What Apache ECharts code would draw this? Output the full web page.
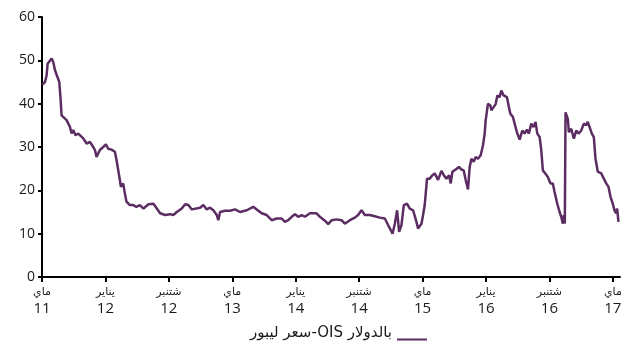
<!DOCTYPE html>
<html>
<head>
<meta charset="utf-8">
<script src="https://cdn.jsdelivr.net/npm/echarts@6/dist/echarts.min.js"></script>
<style>
  html, body { margin: 0; padding: 0; background: #fff; }
  #chart { width: 625px; height: 344px; }
</style>
</head>
<body>
<div id="chart"></div>
<script>
// Time position of each observation, in months counted from May 2011
const monthsSinceMay2011 = [
  0.04, 0.38, 0.58, 0.71, 0.92, 1.21, 1.42, 1.64, 1.96, 2.18,
  2.34, 2.47, 2.68, 3.10, 3.53, 3.73, 3.94, 4.23, 4.57, 4.91,
  5.20, 5.62, 6.05, 6.46, 6.68, 6.88, 7.09, 7.30, 7.72, 8.06,
  8.35, 8.77, 9.19, 9.40, 9.61, 9.82, 9.95, 10.24, 10.45, 10.65,
  11.08, 11.50, 11.91, 12.34, 12.59, 12.80, 13.43, 14.06, 14.48, 14.90,
  15.53, 16.16, 16.57, 17.00, 17.63, 18.05, 18.46, 18.89, 19.09, 19.94,
  20.35, 20.78, 21.20, 21.61, 22.04, 22.24, 22.46, 23.09, 23.72, 24.35,
  24.97, 25.82, 26.65, 27.08, 27.71, 28.34, 28.97, 29.60, 30.23, 30.64,
  31.06, 31.49, 31.90, 32.32, 32.75, 33.16, 33.79, 34.63, 35.05, 35.68,
  36.10, 36.52, 37.15, 37.78, 38.20, 38.83, 39.46, 39.87, 40.30, 40.72,
  41.35, 41.98, 42.61, 43.24, 43.65, 44.21, 44.50, 44.79, 45.04, 45.34,
  45.63, 46.05, 46.39, 46.80, 47.23, 47.43, 47.86, 48.06, 48.27, 48.40,
  48.56, 48.90, 49.24, 49.53, 49.75, 49.95, 50.38, 50.67, 51.01, 51.34,
  51.55, 51.76, 52.18, 52.59, 52.90, 53.19, 53.44, 53.73, 53.94, 54.16,
  54.45, 54.70, 54.99, 55.33, 55.62, 55.83, 55.96, 56.25, 56.55, 56.68,
  56.96, 57.22, 57.43, 57.72, 57.93, 58.22, 58.64, 58.89, 59.07, 59.40,
  59.61, 59.90, 60.24, 60.58, 60.87, 61.16, 61.41, 61.71, 62.00, 62.25,
  62.47, 62.76, 62.97, 63.17, 63.48, 63.80, 64.14, 64.43, 64.65, 64.99,
  65.28, 65.49, 65.69, 65.82, 65.94, 66.03, 66.16, 66.32, 66.45, 66.75,
  67.08, 67.38, 67.67, 68.01, 68.34, 68.64, 68.84, 69.06, 69.35, 69.60,
  69.81, 70.10, 70.53, 70.86, 71.16, 71.45, 71.70, 71.99, 72.20, 72.42,
  72.54, 72.71
];

// Libor-OIS spread in USD, basis points
const spreadBp = [
  44.4, 45.0, 46.5, 49.2, 49.6, 50.4, 49.6, 47.7, 46.1, 45.0,
  41.2, 37.3, 37.7, 36.2, 34.6, 33.1, 33.9, 32.7, 33.1, 32.5,
  32.0, 30.8, 31.2, 30.0, 29.3, 27.7, 27.9, 29.3, 30.0, 30.6,
  29.6, 29.4, 28.9, 27.0, 24.7, 22.4, 20.8, 21.6, 19.3, 17.4,
  16.6, 16.6, 16.2, 16.6, 16.9, 15.8, 16.8, 16.9, 15.8, 14.7,
  14.3, 14.5, 14.3, 15.0, 15.8, 16.8, 16.6, 15.6, 16.0, 16.0,
  16.6, 15.6, 16.0, 15.4, 14.3, 13.1, 15.0, 15.3, 15.3, 15.6,
  15.0, 15.4, 16.2, 15.6, 14.7, 14.3, 13.1, 13.5, 13.5, 12.7,
  13.1, 13.9, 14.5, 13.9, 14.3, 13.9, 14.7, 14.7, 13.9, 13.0,
  12.2, 13.1, 13.3, 13.1, 12.3, 13.1, 13.7, 14.3, 15.4, 14.3,
  14.3, 14.0, 13.7, 13.5, 12.0, 10.0, 12.3, 15.4, 10.4, 12.0,
  16.6, 16.9, 15.8, 15.4, 12.7, 11.2, 12.3, 14.3, 16.6, 19.3,
  22.7, 22.7, 23.5, 23.9, 24.3, 22.4, 24.5, 23.5, 22.7, 23.5,
  21.6, 24.3, 24.8, 25.4, 24.8, 24.6, 22.4, 20.2, 25.4, 27.3,
  26.6, 27.7, 27.3, 28.1, 30.4, 33.1, 36.2, 40.0, 39.6, 38.5,
  39.2, 39.9, 41.9, 41.5, 43.0, 41.9, 41.5, 39.2, 37.7, 36.9,
  35.4, 33.4, 31.7, 33.8, 33.1, 34.0, 33.1, 35.4, 34.6, 35.8,
  33.1, 32.3, 29.3, 24.6, 23.9, 23.1, 21.6, 21.6, 19.6, 16.9,
  15.0, 13.9, 12.3, 14.3, 12.3, 38.0, 37.7, 36.5, 33.4, 34.2,
  31.9, 33.8, 33.1, 33.8, 35.4, 35.0, 35.8, 35.4, 33.1, 32.3,
  27.3, 24.3, 23.9, 22.7, 21.6, 20.8, 18.5, 16.9, 15.4, 14.7,
  15.8, 12.7
];

// Axis ticks every eight months, with month name and two-digit year
const tickMonths = [0, 8, 16, 24, 32, 40, 48, 56, 64, 72];
const tickMonthNames = ['ماي', 'يناير', 'شتنبر', 'ماي', 'يناير', 'شتنبر', 'ماي', 'يناير', 'شتنبر', 'ماي'];
const tickYears = ['11', '12', '12', '13', '14', '14', '15', '16', '16', '17'];

const seriesName = 'سعر ليبور-OIS بالدولار';

const lineColor = '#5c2d62';
const inkColor = '#1a1a1a';

// Legend swatch: a short line sitting low in its box, under the text's centre
const legendSwatch = 'path://M0,0h30v0.01h-30zM0,12h30v2h-30z';

const chart = echarts.init(document.getElementById('chart'), null, { renderer: 'canvas' });

chart.setOption({
  animation: false,
  backgroundColor: '#ffffff',
  grid: { left: 42, right: 5, top: 17, bottom: 67, containLabel: false },
  legend: {
    data: [{ name: seriesName, icon: legendSwatch }],
    right: 198,
    top: 326,
    padding: 0,
    align: 'right',
    itemWidth: 30,
    itemHeight: 14,
    itemGap: 10,
    textStyle: { color: inkColor, fontSize: 15, fontFamily: 'DejaVu Sans, sans-serif' },
    selectedMode: false
  },
  xAxis: {
    type: 'value',
    min: 0,
    max: 72.9,
    splitLine: { show: false },
    axisLine: { show: true, onZero: false, lineStyle: { color: '#000', width: 2 } },
    axisTick: { show: true, customValues: tickMonths, length: 5, lineStyle: { color: '#000', width: 2 } },
    axisLabel: {
      customValues: tickMonths,
      margin: 8,
      formatter: function (v) {
        const i = tickMonths.indexOf(Math.round(v));
        if (i < 0) return '';
        return '{m|' + tickMonthNames[i] + '}\n{y|' + tickYears[i] + '}';
      },
      rich: {
        m: { fontSize: 11, lineHeight: 14, color: inkColor, fontFamily: 'DejaVu Sans, sans-serif' },
        y: { fontSize: 15, lineHeight: 19, color: inkColor, fontFamily: 'Open Sans, sans-serif' }
      }
    }
  },
  yAxis: {
    type: 'value',
    min: 0,
    max: 60,
    interval: 10,
    splitLine: { show: false },
    axisLine: { show: true, lineStyle: { color: '#000', width: 2 } },
    axisTick: { show: true, length: 4, lineStyle: { color: '#000', width: 2 } },
    axisLabel: { margin: 7, color: inkColor, fontSize: 14, fontFamily: 'Open Sans, sans-serif' }
  },
  series: [{
    name: seriesName,
    type: 'line',
    data: monthsSinceMay2011.map((m, i) => [m, spreadBp[i]]),
    showSymbol: false,
    symbol: 'none',
    lineStyle: { color: lineColor, width: 2.5 },
    itemStyle: { color: lineColor },
    z: 3
  }]
});
</script>
</body>
</html>
